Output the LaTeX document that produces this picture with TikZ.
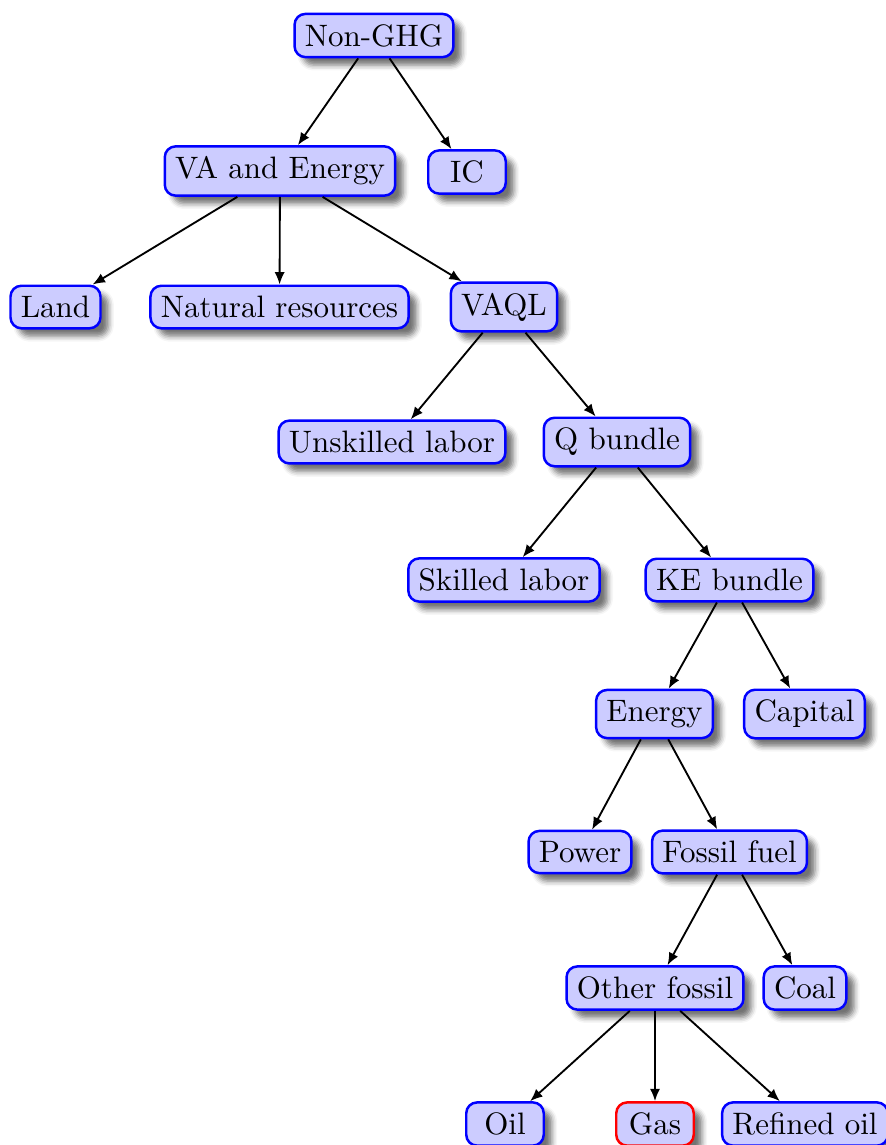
\documentclass[tikz,border=0pt]{standalone}
\usetikzlibrary{shadows.blur,arrows.meta}
\begin{document}
\begin{tikzpicture}[x=0.3226pt,y=-0.3226pt,
  box/.style={draw=blue,fill=blue!20,thick,rounded corners=3.5pt,minimum width=25pt,blur shadow={shadow opacity=55,shadow xshift=0.6ex,shadow yshift=-0.6ex}},
  redbox/.style={box,draw=red},
  link/.style={-{Latex[length=4pt,width=3.3pt]},semithick}]
\useasboundingbox (0,0) rectangle (885,1145);
\node[box] (ng) at (374,35.5) {Non-GHG};
\node[box] (va) at (280,171) {VA and Energy};
\node[box] (ic) at (467,172) {IC};
\node[box] (land) at (55.5,307) {Land};
\node[box] (nr) at (279.5,307) {Natural resources};
\node[box] (vaql) at (504,307) {VAQL};
\node[box] (ul) at (392,442) {Unskilled labor};
\node[box] (qb) at (617,442) {Q bundle};
\node[box] (sl) at (504,580) {Skilled labor};
\node[box] (ke) at (729.5,580) {KE bundle};
\node[box] (en) at (654.5,714) {Energy};
\node[box] (cap) at (804.5,714) {Capital};
\node[box] (pow) at (580,852) {Power};
\node[box] (ff) at (729.5,852) {Fossil fuel};
\node[box] (of) at (655,988) {Other fossil};
\node[box] (coal) at (805,988) {Coal};
\node[box] (oil) at (505,1124) {Oil};
\node[redbox] (gas) at (655,1124) {Gas};
\node[box] (ro) at (805,1124) {Refined oil};
\foreach \a/\b in {ng/va,ng/ic,va/land,va/nr,va/vaql,vaql/ul,vaql/qb,qb/sl,qb/ke,ke/en,ke/cap,en/pow,en/ff,ff/of,ff/coal,of/oil,of/gas,of/ro}
  \draw[link] (\a) -- (\b);
\end{tikzpicture}
\end{document}
